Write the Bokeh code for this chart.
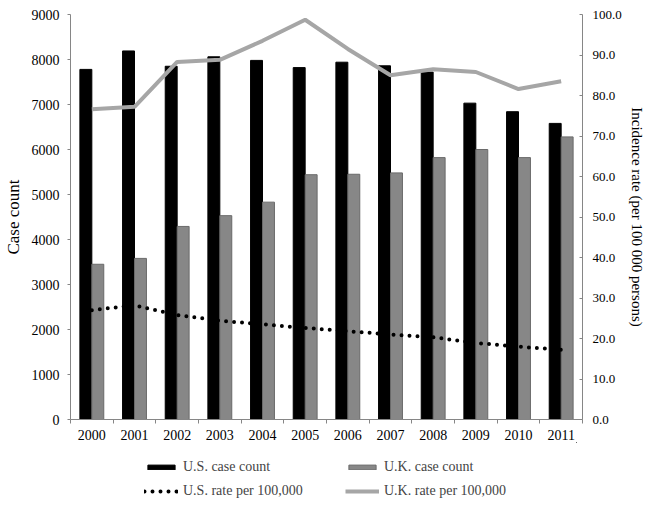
from bokeh.plotting import figure
from bokeh.layouts import column
from bokeh.models import (Range1d, LinearAxis, FixedTicker, Legend, LegendItem,
                          ColumnDataSource, NumeralTickFormatter)
from bokeh.transform import dodge
from bokeh.embed import file_html
from bokeh.resources import INLINE

years = [2000, 2001, 2002, 2003, 2004, 2005, 2006, 2007, 2008, 2009, 2010, 2011]
us_count = [7780, 8190, 7850, 8060, 7980, 7820, 7940, 7860, 7720, 7030, 6840, 6580]
uk_count = [3450, 3580, 4290, 4530, 4830, 5440, 5450, 5480, 5820, 6000, 5820, 6280]
us_rate = [27.0, 28.2, 25.8, 24.4, 23.5, 22.6, 21.8, 21.0, 20.3, 18.9, 18.0, 17.2]
uk_rate = [76.6, 77.2, 88.3, 88.8, 93.5, 98.7, 91.5, 85.0, 86.5, 85.8, 81.6, 83.5]

count_ticks = [0, 1000, 2000, 3000, 4000, 5000, 6000, 7000, 8000, 9000]
rate_ticks = [0, 10, 20, 30, 40, 50, 60, 70, 80, 90, 100]

src = ColumnDataSource(dict(year=years, us_count=us_count, uk_count=uk_count,
                            us_rate=us_rate, uk_rate=uk_rate))

FONT = "Liberation Serif"
AXC = "#868686"
BW = 0.28
STY = dict(
    us_bar=dict(fill_color="black", line_color="black"),
    uk_bar=dict(fill_color="#878787", line_color="#6a6a6a", line_width=1),
    uk_line=dict(line_color="#a6a6a6", line_width=4),
    us_line=dict(line_color="black", line_width=4, line_dash="0 8", line_cap="round"),
)


def add_marks(fig, **kw):
    r = {}
    r["us_bar"] = fig.vbar(x=dodge("year", -BW / 2, range=fig.x_range), top="us_count",
                           width=BW, source=src, **STY["us_bar"])
    r["uk_bar"] = fig.vbar(x=dodge("year", BW / 2, range=fig.x_range), top="uk_count",
                           width=BW, source=src, **STY["uk_bar"])
    r["uk_line"] = fig.line("year", "uk_rate", source=src, **kw, **STY["uk_line"])
    r["us_line"] = fig.line("year", "us_rate", source=src, **kw, **STY["us_line"])
    return r


p = figure(frame_width=512, frame_height=405, output_backend="svg", toolbar_location=None,
           x_range=Range1d(years[0] - 0.5, years[-1] + 0.5),
           y_range=Range1d(count_ticks[0], count_ticks[-1]),
           min_border_left=65, min_border_right=64, min_border_top=14,
           min_border_bottom=0, x_axis_type=None, y_axis_type=None)
p.extra_y_ranges = {"rate": Range1d(rate_ticks[0], rate_ticks[-1])}
p.xgrid.visible = False
p.ygrid.visible = False
p.outline_line_color = None
add_marks(p, y_range_name="rate")

# axes
xaxis = LinearAxis(ticker=FixedTicker(ticks=years,
                                      minor_ticks=[y - 0.5 for y in years] + [years[-1] + 0.5]))
xaxis.major_tick_out = 0
xaxis.major_tick_in = 0
xaxis.minor_tick_out = 4
xaxis.minor_tick_in = 0
xaxis.major_label_standoff = 6
p.add_layout(xaxis, "below")

yl = LinearAxis(ticker=FixedTicker(ticks=count_ticks), axis_label="Case count")
yl.major_tick_out = 3
yl.major_tick_in = 0
yl.minor_tick_out = 0
yl.minor_tick_in = 0
yl.major_label_standoff = 8
yl.axis_label_standoff = 6
p.add_layout(yl, "left")

yr = LinearAxis(y_range_name="rate", ticker=FixedTicker(ticks=rate_ticks),
                formatter=NumeralTickFormatter(format="0.0"),
                axis_label="Incidence rate (per 100 000 persons)")
yr.major_tick_out = 0
yr.major_tick_in = 3
yr.minor_tick_out = 0
yr.minor_tick_in = 0
yr.major_label_standoff = 10
yr.axis_label_standoff = 4
p.add_layout(yr, "right")

for ax in (xaxis, yl, yr):
    ax.axis_line_color = AXC
    ax.major_tick_line_color = AXC
    ax.minor_tick_line_color = AXC
    ax.major_label_text_font = FONT
    ax.major_label_text_font_size = "14px"
    ax.major_label_text_color = "black"
    ax.axis_label_text_font = FONT
    ax.axis_label_text_font_style = "normal"
    ax.axis_label_text_color = "black"
yl.axis_label_text_font_size = "17px"
yr.axis_label_text_font_size = "15px"
yr.major_label_text_font_size = "13px"

# legend strip: same marks, kept out of its view, only their legend swatches show
pl = figure(width=641, height=58, output_backend="svg", toolbar_location=None,
            x_range=Range1d(0, 1), y_range=Range1d(-2, -1),
            min_border_left=0, min_border_right=0, min_border_top=0,
            min_border_bottom=0, x_axis_type=None, y_axis_type=None)
pl.xgrid.visible = False
pl.ygrid.visible = False
pl.outline_line_color = None
lr = add_marks(pl)


def make_legend(items, loc):
    lg = Legend(items=items, orientation="vertical", location=loc)
    lg.label_text_font = FONT
    lg.label_text_font_size = "14px"
    lg.label_standoff = 5
    lg.glyph_width = 34
    lg.glyph_height = 6
    lg.label_height = 16
    lg.spacing = 8
    lg.padding = 0
    lg.margin = 0
    lg.border_line_color = None
    lg.background_fill_alpha = 0
    return lg


pl.add_layout(make_legend([
    LegendItem(label="U.S. case count", renderers=[lr["us_bar"]]),
    LegendItem(label="U.S. rate per 100,000", renderers=[lr["us_line"]]),
], (74, 1)), "center")
pl.add_layout(make_legend([
    LegendItem(label="U.K. case count", renderers=[lr["uk_bar"]]),
    LegendItem(label="U.K. rate per 100,000", renderers=[lr["uk_line"]]),
], (275, 1)), "center")

open("out.html", "w").write(file_html(column(p, pl, spacing=0), INLINE))
